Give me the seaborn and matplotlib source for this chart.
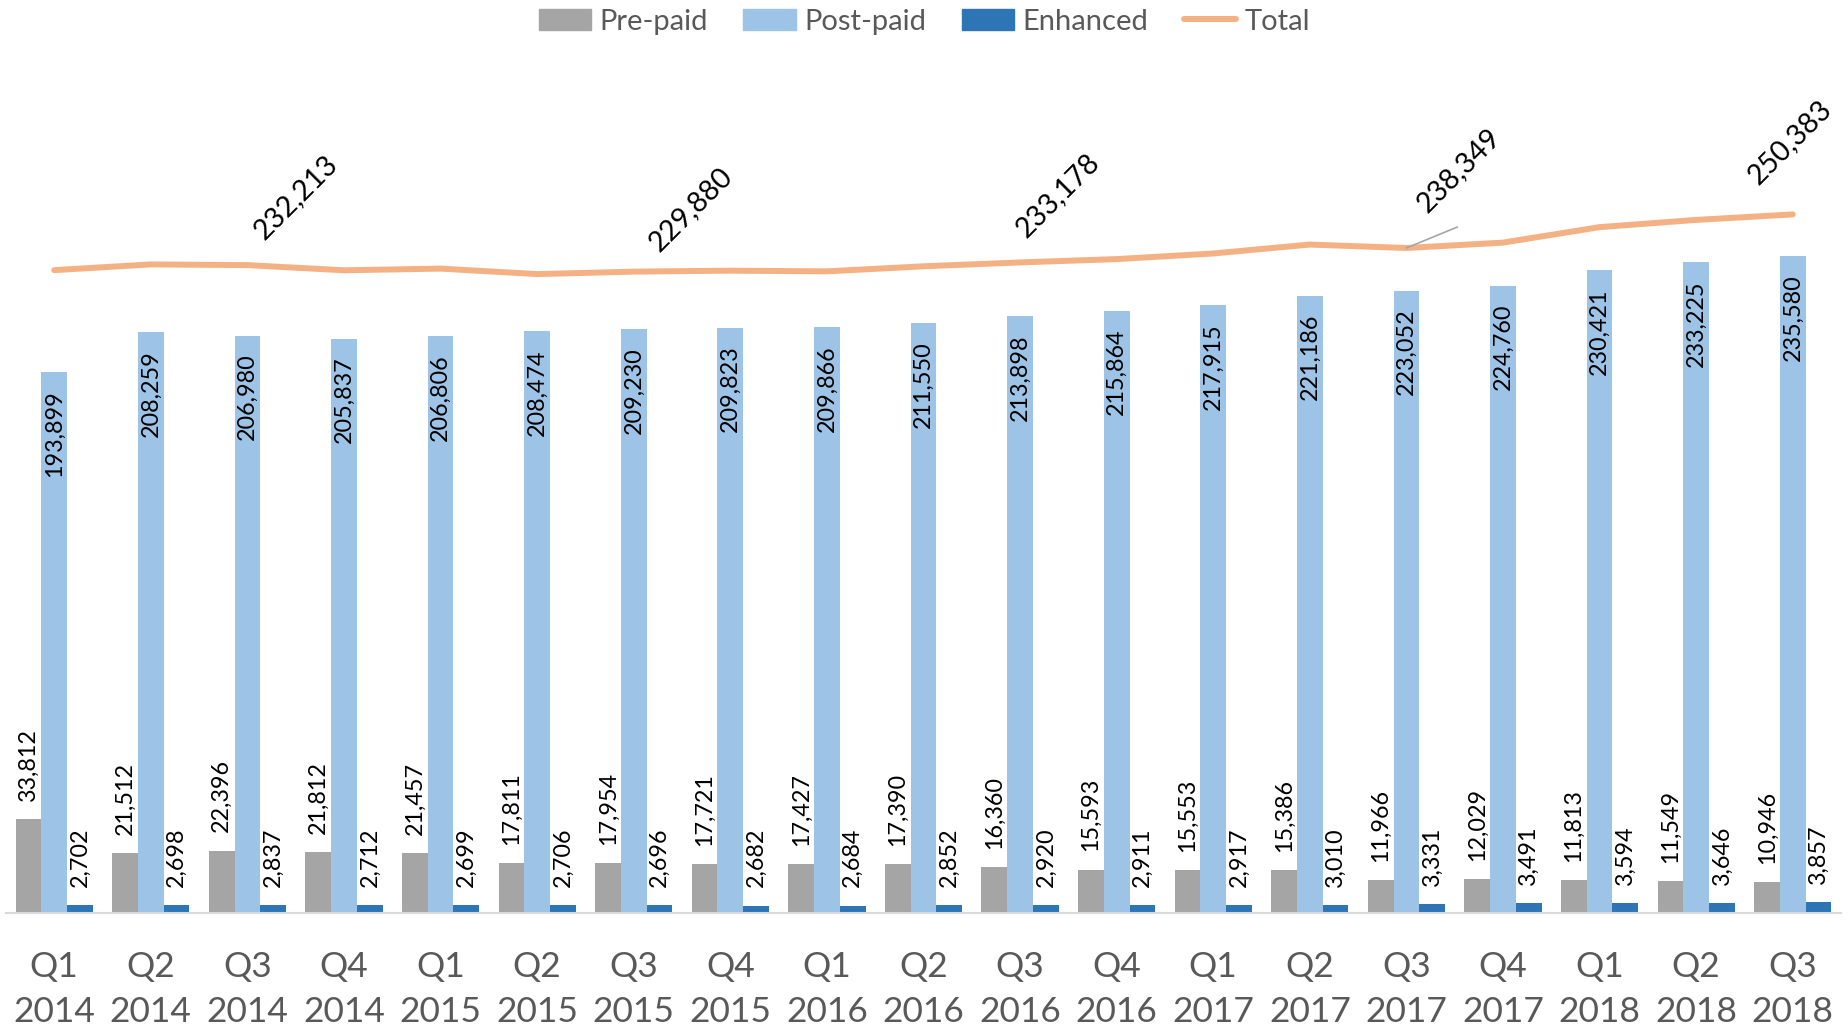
import numpy as np
import pandas as pd
import matplotlib
matplotlib.use('Agg')
import matplotlib.pyplot as plt
from matplotlib.patches import Patch
from matplotlib.lines import Line2D
import seaborn as sns

# %%
quarters = ['Q1\n2014', 'Q2\n2014', 'Q3\n2014', 'Q4\n2014',
            'Q1\n2015', 'Q2\n2015', 'Q3\n2015', 'Q4\n2015',
            'Q1\n2016', 'Q2\n2016', 'Q3\n2016', 'Q4\n2016',
            'Q1\n2017', 'Q2\n2017', 'Q3\n2017', 'Q4\n2017',
            'Q1\n2018', 'Q2\n2018', 'Q3\n2018']
pre_paid = [33812, 21512, 22396, 21812, 21457, 17811, 17954, 17721, 17427, 17390,
            16360, 15593, 15553, 15386, 11966, 12029, 11813, 11549, 10946]
post_paid = [193899, 208259, 206980, 205837, 206806, 208474, 209230, 209823, 209866, 211550,
             213898, 215864, 217915, 221186, 223052, 224760, 230421, 233225, 235580]
enhanced = [2702, 2698, 2837, 2712, 2699, 2706, 2696, 2682, 2684, 2852,
            2920, 2911, 2917, 3010, 3331, 3491, 3594, 3646, 3857]
total = [230413, 232469, 232213, 230361, 230962, 228991, 229880, 230226, 229977, 231792,
         233178, 234368, 236385, 239582, 238349, 240280, 245828, 248420, 250383]

series_names = ['Pre-paid', 'Post-paid', 'Enhanced']
colors = ['#A5A5A5', '#9DC3E6', '#2E75B6']
line_color = '#F4B183'
text_grey = '#595959'

# only these points of the Total line carry a label
total_label_idx = [2, 6, 10, 14, 18]
total_label_off = [(48, 68), (57, 63), (38, 67), (52, 78), (-3, 72)]

# %%
sns.set_theme(style='white')
plt.rcParams['font.family'] = ['Lato', 'DejaVu Sans']

df = pd.DataFrame({
    'quarter': quarters * 3,
    'series': np.repeat(series_names, len(quarters)),
    'value': pre_paid + post_paid + enhanced,
})

fig = plt.figure(figsize=(18.49, 10.32), dpi=100)
ax = fig.add_axes([0.0032, 0.1153, 0.9925, 0.757])

sns.barplot(data=df, x='quarter', y='value', hue='series', hue_order=series_names,
            palette=colors, saturation=1, width=0.8, gap=0, linewidth=0,
            legend=False, ax=ax)

sns.lineplot(x=np.arange(len(quarters)), y=total, color=line_color, lw=4.3,
             solid_capstyle='round', sort=False, ax=ax)

# bar labels
for cont, name, vals in zip(ax.containers, series_names, [pre_paid, post_paid, enhanced]):
    for bar, v in zip(cont, vals):
        x = bar.get_x() + bar.get_width() / 2
        if name == 'Post-paid':
            ax.annotate(f'{v:,}', (x, v), xytext=(0, -13), textcoords='offset points',
                        rotation=90, ha='center', va='top', fontsize=16.8, color='black')
        else:
            ax.annotate(f'{v:,}', (x, v), xytext=(0, 13), textcoords='offset points',
                        rotation=90, ha='center', va='bottom', fontsize=16.8, color='black')

# total labels
for i, (dx, dy) in zip(total_label_idx, total_label_off):
    ax.annotate(f'{total[i]:,}', (i, total[i]), xytext=(dx, dy), textcoords='offset pixels',
                rotation=45, ha='center', va='center', fontsize=20.5, color='black')
ax.annotate('', xy=(14, total[14]), xytext=(51, 21), textcoords='offset pixels',
            arrowprops=dict(arrowstyle='-', color='#A6A6A6', lw=1.2, shrinkA=0, shrinkB=0))

ax.set_xlim(-0.5, len(quarters) - 0.5)
ax.set_ylim(0, 280000)
ax.set_yticks([])
ax.set_xlabel('')
ax.set_ylabel('')
sns.despine(ax=ax, left=True)
ax.spines['bottom'].set_color('#D9D9D9')
ax.spines['bottom'].set_linewidth(1.5)
ax.tick_params(axis='x', length=0, pad=27, labelsize=25.5, labelcolor=text_grey)
for t in ax.get_xticklabels():
    t.set_linespacing(1.5)

handles = [Patch(color=c) for c in colors] + [Line2D([], [], color=line_color, lw=4.3)]
fig.legend(handles, series_names + ['Total'], loc='center', bbox_to_anchor=(0.5, 0.979),
           ncol=4, frameon=False, fontsize=21, handlelength=1.8, handletextpad=0.3,
           columnspacing=1.2, labelcolor=text_grey)

fig.savefig('out.png', dpi=100)
